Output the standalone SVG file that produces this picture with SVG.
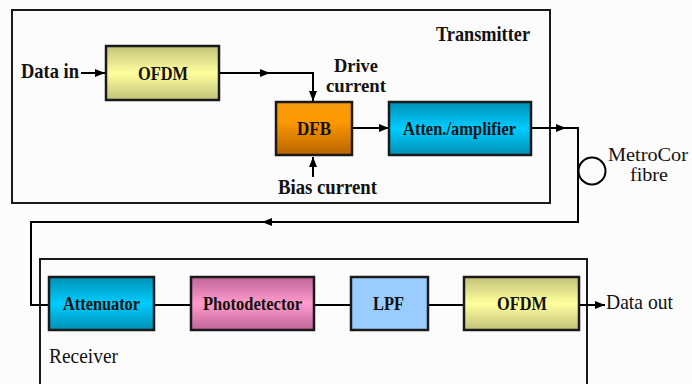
<svg xmlns="http://www.w3.org/2000/svg" width="692" height="384" viewBox="0 0 692 384">
<defs>
<linearGradient id="gYel" x1="0" y1="0" x2="0" y2="1">
<stop offset="0" stop-color="#c2c27a"/><stop offset="0.5" stop-color="#ffff9e"/><stop offset="1" stop-color="#c2c27a"/>
</linearGradient>
<linearGradient id="gOra" x1="0" y1="0" x2="0" y2="1">
<stop offset="0" stop-color="#f59a10"/><stop offset="0.35" stop-color="#ff9a00"/><stop offset="1" stop-color="#b86400"/>
</linearGradient>
<linearGradient id="gCya" x1="0" y1="0" x2="0" y2="1">
<stop offset="0" stop-color="#0090b4"/><stop offset="0.5" stop-color="#00ccff"/><stop offset="1" stop-color="#0090b4"/>
</linearGradient>
<linearGradient id="gPin" x1="0" y1="0" x2="0" y2="1">
<stop offset="0" stop-color="#c0649a"/><stop offset="0.5" stop-color="#ff9ccc"/><stop offset="1" stop-color="#c0649a"/>
</linearGradient>
<marker id="ah" viewBox="0 0 10 8" refX="10" refY="4" markerWidth="10" markerHeight="8" markerUnits="userSpaceOnUse" orient="auto">
<path d="M0,0 L10,4 L0,8 Z" fill="#000"/>
</marker>
</defs>
<style>
.box{stroke:#1a1a1a;stroke-width:2.5}
.frame{fill:none;stroke:#1a1a1a;stroke-width:2}
.ln{fill:none;stroke:#000;stroke-width:2}
.lb{font-family:"Liberation Serif","Times New Roman",serif;font-weight:bold;font-size:21px;fill:#111}
.bl{font-family:"Liberation Serif","Times New Roman",serif;font-weight:bold;font-size:19px;fill:#111}
.rg{font-family:"Liberation Serif","Times New Roman",serif;font-size:21px;fill:#111}
.sm{font-size:18px}
</style>
<rect x="0" y="0" width="692" height="384" fill="#fcfcfc"/>
<g id="transmitter">
<rect class="frame" x="12" y="10" width="538" height="193"/>
<text class="lb" x="436" y="41" textLength="94" lengthAdjust="spacingAndGlyphs">Transmitter</text>
</g>
<g id="receiver">
<rect class="frame" x="40" y="259" width="547" height="140"/>
<text class="rg" x="49" y="363" textLength="69" lengthAdjust="spacingAndGlyphs">Receiver</text>
</g>
<g id="connectors">
<path class="ln" d="M81,73 H105" marker-end="url(#ah)"/>
<path class="ln" d="M219,73 H270" marker-end="url(#ah)"/>
<path class="ln" d="M268,73 H313 V101" marker-end="url(#ah)"/>
<path class="ln" d="M313,177 V157" marker-end="url(#ah)"/>
<path class="ln" d="M352,128 H389" marker-end="url(#ah)"/>
<path class="ln" d="M531,128 H566" marker-end="url(#ah)"/>
<path class="ln" d="M564,128 H578 V222 H262"/>
<path class="ln" d="M300,222 H262" marker-end="url(#ah)"/>
<path class="ln" d="M264,222 H31 V305 H49"/>
<path class="ln" d="M154,305 H191 M314,305 H351 M428,305 H464"/>
<path class="ln" d="M579,305 H605" marker-end="url(#ah)"/>
</g>
<g id="fibre">
<circle cx="592" cy="171" r="13.5" fill="#fcfcfc" stroke="#000" stroke-width="2"/>
<text class="rg sm" x="608" y="161" textLength="80" lengthAdjust="spacingAndGlyphs">MetroCor</text>
<text class="rg sm" x="630" y="181" textLength="38" lengthAdjust="spacingAndGlyphs">fibre</text>
</g>
<g id="labels">
<text class="lb" x="21" y="78" textLength="58" lengthAdjust="spacingAndGlyphs">Data in</text>
<text class="lb sm" x="334" y="72" textLength="44" lengthAdjust="spacingAndGlyphs">Drive</text>
<text class="lb sm" x="326" y="92" textLength="60" lengthAdjust="spacingAndGlyphs">current</text>
<text class="lb" x="278" y="194" textLength="99" lengthAdjust="spacingAndGlyphs">Bias current</text>
<text class="rg" x="606" y="309" textLength="67" lengthAdjust="spacingAndGlyphs">Data out</text>
</g>
<g id="ofdm-tx">
<rect class="box" x="106" y="46" width="113" height="54" fill="url(#gYel)"/>
<text class="bl" x="138" y="80" textLength="50" lengthAdjust="spacingAndGlyphs">OFDM</text>
</g>
<g id="dfb">
<rect class="box" x="276" y="102" width="76" height="53" fill="url(#gOra)"/>
<text class="bl" x="297" y="135" textLength="34" lengthAdjust="spacingAndGlyphs">DFB</text>
</g>
<g id="atten-amp">
<rect class="box" x="389" y="102" width="142" height="53" fill="url(#gCya)"/>
<text class="bl" x="403" y="135" textLength="113" lengthAdjust="spacingAndGlyphs">Atten./amplifier</text>
</g>
<g id="attenuator">
<rect class="box" x="49" y="277" width="105" height="53" fill="url(#gCya)"/>
<text class="bl" x="63" y="310" textLength="77" lengthAdjust="spacingAndGlyphs">Attenuator</text>
</g>
<g id="photodetector">
<rect class="box" x="191" y="277" width="123" height="53" fill="url(#gPin)"/>
<text class="bl" x="203" y="310" textLength="99" lengthAdjust="spacingAndGlyphs">Photodetector</text>
</g>
<g id="lpf">
<rect class="box" x="351" y="277" width="77" height="53" fill="#99ccff"/>
<text class="bl" x="373" y="310" textLength="31" lengthAdjust="spacingAndGlyphs">LPF</text>
</g>
<g id="ofdm-rx">
<rect class="box" x="464" y="277" width="115" height="53" fill="url(#gYel)"/>
<text class="bl" x="497" y="310" textLength="50" lengthAdjust="spacingAndGlyphs">OFDM</text>
</g>
</svg>
